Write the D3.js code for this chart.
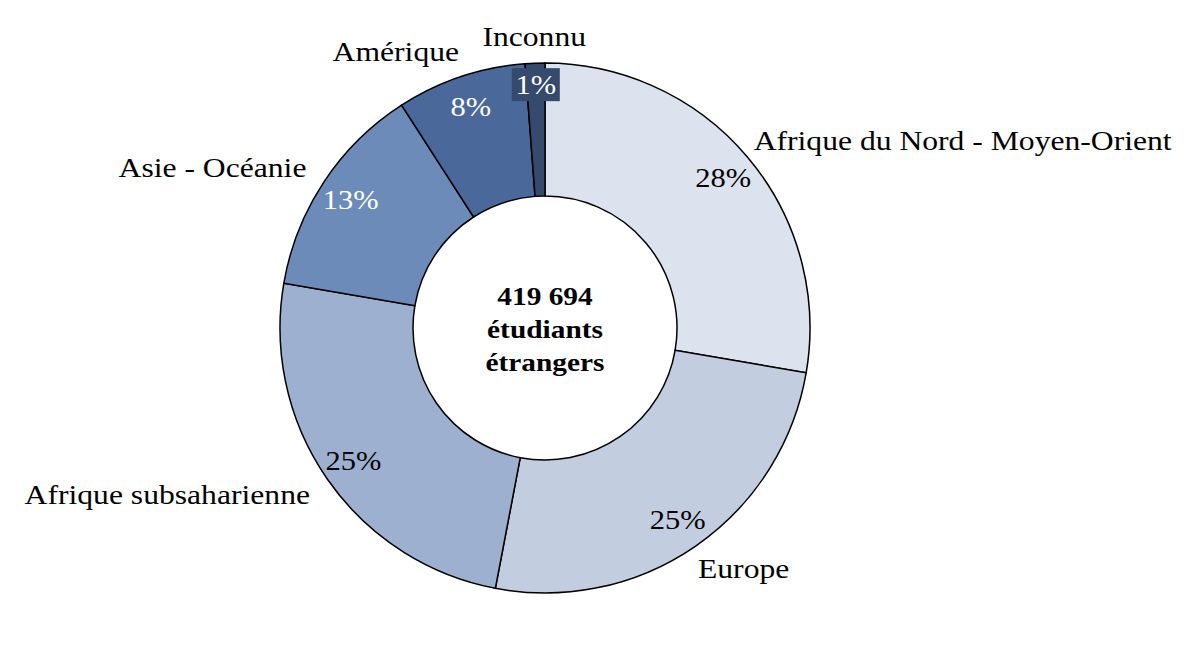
<!DOCTYPE html>
<html><head><meta charset="utf-8">
<script src="https://cdn.jsdelivr.net/npm/d3@7"></script>
<style>body{margin:0;background:#fff}svg{display:block}</style>
</head><body>
<svg id="c" width="1198" height="659"></svg>
<script>
const categories = ["Afrique du Nord - Moyen-Orient","Europe","Afrique subsaharienne","Asie - Océanie","Amérique","Inconnu"];
const values = [27.7, 25.3, 24.7, 13.2, 7.9, 1.2];
const pctLabels = ["28%","25%","25%","13%","8%","1%"];
const colors = ["#dde3ee","#c3cde0","#9eb0cf","#6c8bb8","#4a6899","#354a6d"];
const pctColors = ["#000","#000","#000","#fff","#fff","#fff"];
const centerLines = ["419 694","étudiants","étrangers"];

const svg = d3.select("#c");
const cx = 545, cy = 328, R = 265, r = 132;
const FONT = "'Liberation Serif', 'DejaVu Serif', serif";
const SX = 1.13;
const g = svg.append("g").attr("transform",`translate(${cx},${cy})`);
const pie = d3.pie().sort(null).value(d=>d);
const arcs = pie(values);
const arc = d3.arc().innerRadius(r).outerRadius(R);

g.selectAll("path").data(arcs).join("path")
  .attr("d",arc).attr("fill",(d,i)=>colors[i])
  .attr("stroke","#000").attr("stroke-width",1.5);

function addText(x,y,str,opts){
  const t = g.append("g").attr("transform",`translate(${x},${y}) scale(${SX},1)`)
    .append("text").attr("x",0).attr("y",0)
    .attr("text-anchor",opts.anchor||"middle")
    .attr("dominant-baseline",opts.baseline||"central")
    .attr("font-family",FONT).attr("font-size",opts.size)
    .attr("font-weight",opts.weight||"normal")
    .attr("fill",opts.fill||"#000").text(str);
  return t;
}
const mid = d=>(d.startAngle+d.endAngle)/2;
// percentage labels
arcs.forEach((d,i)=>{
  const a = mid(d);
  const boxed = (i===5);
  const pr = boxed ? 244 : 233;
  const x = Math.sin(a)*pr, y = -Math.cos(a)*pr;
  if(boxed){
    g.append("rect").attr("x",x-24).attr("y",y-16).attr("width",48).attr("height",33)
      .attr("fill",colors[i]);
  }
  addText(x,y,pctLabels[i],{size:27,fill:pctColors[i]});
});
// category labels
const lr = 286;
arcs.forEach((d,i)=>{
  const a = mid(d);
  const s = Math.sin(a), c = Math.cos(a);
  const anchor = s>0.3?"start":(s<-0.3?"end":"middle");
  const x = s*lr + (anchor==="start"?-10:(anchor==="end"&&c>0.9?5:0)), y = -c*lr - c*6;
  addText(x,y,categories[i],{size:28,anchor});
});
// centre text
centerLines.forEach((t,i)=>{
  addText(0,-23+i*33,t,{size:26,weight:"bold",baseline:"auto"});
});
</script>
</body></html>
